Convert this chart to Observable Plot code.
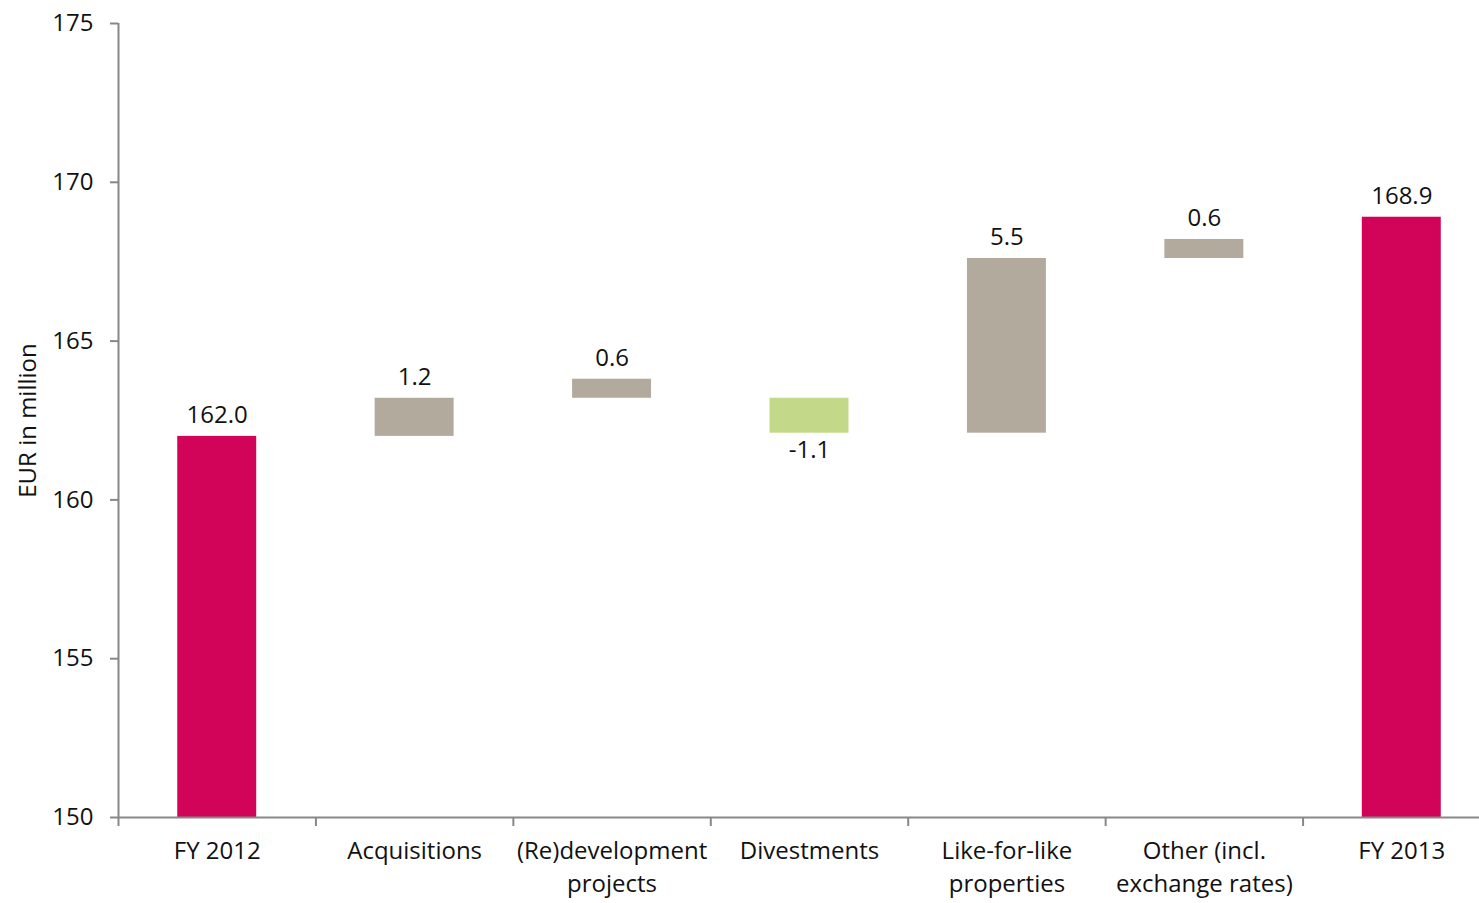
<!DOCTYPE html>
<html><head><meta charset="utf-8">
<script src="https://cdn.jsdelivr.net/npm/d3@7"></script>
<script src="https://cdn.jsdelivr.net/npm/@observablehq/plot@0.6"></script>
<style>body{margin:0;background:#fff;}</style>
</head><body><div id="chart"></div>
<script>
const categories = ["FY 2012", "Acquisitions", "(Re)development\nprojects", "Divestments", "Like-for-like\nproperties", "Other (incl.\nexchange rates)", "FY 2013"];
const barStart = [150, 162.0, 163.2, 163.2, 162.1, 167.6, 150];
const barEnd = [162.0, 163.2, 163.8, 162.1, 167.6, 168.2, 168.9];
const valueLabels = ["162.0", "1.2", "0.6", "-1.1", "5.5", "0.6", "168.9"];
const barKinds = ["total", "increase", "increase", "decrease", "increase", "increase", "total"];
const yTicks = [150, 155, 160, 165, 170, 175];

const colors = {total: "#D1045A", increase: "#B3AA9E", decrease: "#C3D888"};
const data = categories.map((c, i) => ({i, c, y1: barStart[i], y2: barEnd[i], label: valueLabels[i], kind: barKinds[i]}));
const half = 0.2;
const boundaries = d3.range(categories.length + 1).map(k => k - 0.5);

const chart = Plot.plot({
  width: 1479, height: 903,
  marginLeft: 118, marginRight: -21, marginTop: 23, marginBottom: 86,
  style: {fontFamily: "'Open Sans', sans-serif", fontSize: "24px", color: "#111", background: "#fff", overflow: "hidden"},
  x: {domain: [-0.5, 6.5]},
  y: {domain: [150, 175]},
  marks: [
    Plot.rectY(data, {x1: d => d.i - half, x2: d => d.i + half, y1: "y1", y2: "y2", fill: d => colors[d.kind]}),
    Plot.ruleY([150], {stroke: "#888", strokeWidth: 2}),
    Plot.ruleX([-0.5], {stroke: "#888", strokeWidth: 2}),
    Plot.axisY({ticks: yTicks, tickSize: 8, tickPadding: 17, stroke: "#888", strokeWidth: 2, strokeOpacity: 1,
      label: "EUR in million", labelAnchor: "center", labelArrow: "none", labelOffset: 100, tickFormat: d => String(d)}),
    Plot.axisX({ticks: boundaries, tickSize: 9, tickFormat: () => "", stroke: "#888", strokeWidth: 2, strokeOpacity: 1, label: null}),
    Plot.axisX({ticks: d3.range(categories.length), tickSize: 0, tickPadding: 18, lineHeight: 1.375,
      tickFormat: i => categories[i], label: null}),
    Plot.text(data.filter(d => d.kind !== "decrease"), {x: "i", y: d => Math.max(d.y1, d.y2), text: "label", dy: -21}),
    Plot.text(data.filter(d => d.kind === "decrease"), {x: "i", y: d => Math.min(d.y1, d.y2), text: "label", dy: 17})
  ]
});
document.getElementById("chart").append(chart);
</script>
</body></html>
